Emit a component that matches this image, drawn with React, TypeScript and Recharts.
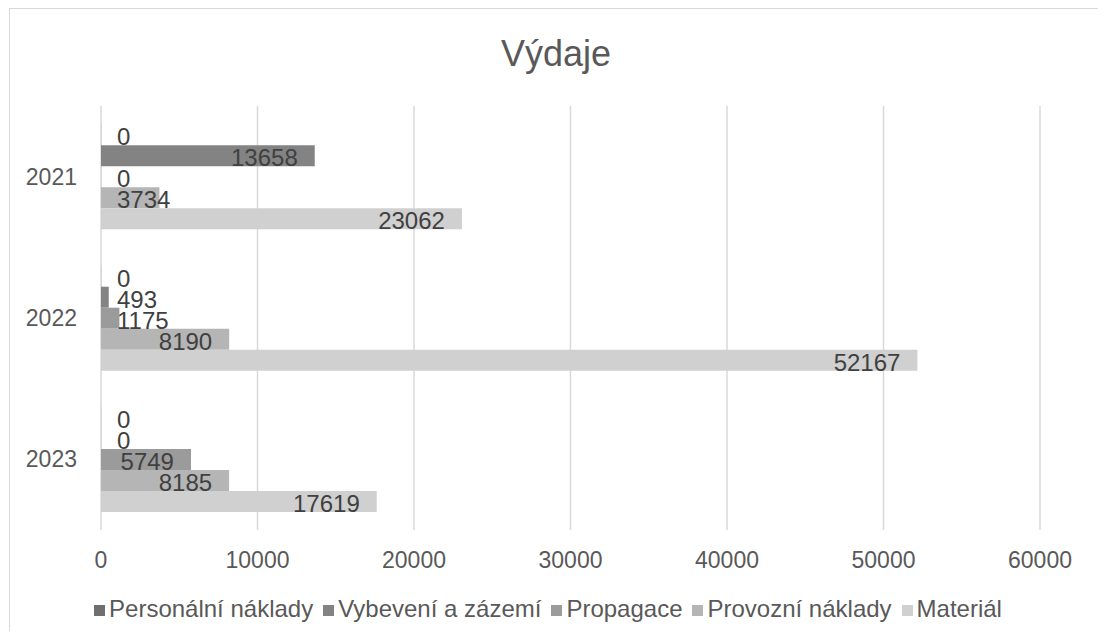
import React from 'react'
import {
  BarChart,
  Bar,
  XAxis,
  YAxis,
  CartesianGrid,
  Legend,
  LabelList,
} from 'recharts'

const years = ['2021', '2022', '2023']
const personalni = [0, 0, 0]
const vybaveni = [13658, 493, 0]
const propagace = [0, 1175, 5749]
const provozni = [3734, 8190, 8185]
const material = [23062, 52167, 17619]
const xTicks = [0, 10000, 20000, 30000, 40000, 50000, 60000]

const series = [
  { key: 'Personální náklady', values: personalni, color: '#6f6f6f' },
  { key: 'Vybevení a zázemí', values: vybaveni, color: '#838383' },
  { key: 'Propagace', values: propagace, color: '#9b9b9b' },
  { key: 'Provozní náklady', values: provozni, color: '#b5b5b5' },
  { key: 'Materiál', values: material, color: '#d0d0d0' },
]

const chartData = years.map((year, i) => {
  const row: Record<string, string | number> = { year }
  series.forEach((s) => {
    row[s.key] = s.values[i]
  })
  return row
})

const FONT = '"Liberation Sans", Arial, sans-serif'
const TEXT = '#595959'
const LABEL_SIZE = 24

// Excel-like "inside end" label, pushed to the right of the bar start when it doesn't fit
const InsideEndLabel = (props: any) => {
  const { x, y, width, height, value } = props
  const text = String(value)
  const textWidth = text.length * LABEL_SIZE * 0.556
  const end = x + width - 17
  const start = x + 16
  const fits = end - textWidth >= start
  return (
    <text
      x={fits ? end : start}
      y={y + height / 2 + 2}
      textAnchor={fits ? 'end' : 'start'}
      dominantBaseline="central"
      fontSize={LABEL_SIZE}
      fontFamily={FONT}
      fill="#404040"
    >
      {text}
    </text>
  )
}

const seriesOrder = (item: any) =>
  series.findIndex((s) => s.key === item.value)

export default function App() {
  return (
    <div
      style={{
        position: 'relative',
        width: 1106,
        height: 639,
        margin: -8,
        overflow: 'hidden',
        background: '#fff',
        fontFamily: FONT,
      }}
    >
      <div
        style={{
          position: 'absolute',
          left: 9,
          top: 8,
          width: 1092,
          height: 700,
          border: '1px solid #d9d9d9',
        }}
      />
      <div
        style={{
          position: 'absolute',
          left: 0,
          top: 32,
          width: 1112,
          textAlign: 'center',
          fontSize: 36,
          color: TEXT,
          lineHeight: '44px',
        }}
      >
        Výdaje
      </div>
      <div style={{ position: 'absolute', left: 0, top: 0 }}>
        <BarChart
          width={1106}
          height={639}
          data={chartData}
          layout="vertical"
          margin={{ top: 106, right: 66, left: 0, bottom: 16 }}
          barCategoryGap="13%"
          barGap={0}
        >
          <CartesianGrid
            horizontal={false}
            stroke="#d9d9d9"
            strokeWidth={1.5}
          />
          <XAxis
            type="number"
            domain={[0, 60000]}
            ticks={xTicks}
            axisLine={false}
            tickLine={false}
            tickSize={0}
            tickMargin={22}
            height={65}
            tick={{ fill: TEXT, fontSize: 23, fontFamily: FONT }}
          />
          <YAxis
            type="category"
            dataKey="year"
            axisLine={false}
            tickLine={false}
            tickSize={0}
            tickMargin={24}
            width={101}
            tick={{ fill: TEXT, fontSize: 23, fontFamily: FONT }}
          />
          <Legend
            verticalAlign="bottom"
            iconType="square"
            iconSize={11}
            itemSorter={seriesOrder}
            wrapperStyle={{
              left: 0,
              width: 1106,
              fontSize: 24,
              lineHeight: '28px',
              fontFamily: FONT,
            }}
            formatter={(value: string) => (
              <span style={{ color: TEXT }}>{value}</span>
            )}
          />
          {series.map((s) => (
            <Bar
              key={s.key}
              dataKey={s.key}
              fill={s.color}
              minPointSize={0.1}
              isAnimationActive={false}
            >
              <LabelList dataKey={s.key} content={InsideEndLabel} />
            </Bar>
          ))}
        </BarChart>
      </div>
    </div>
  )
}
